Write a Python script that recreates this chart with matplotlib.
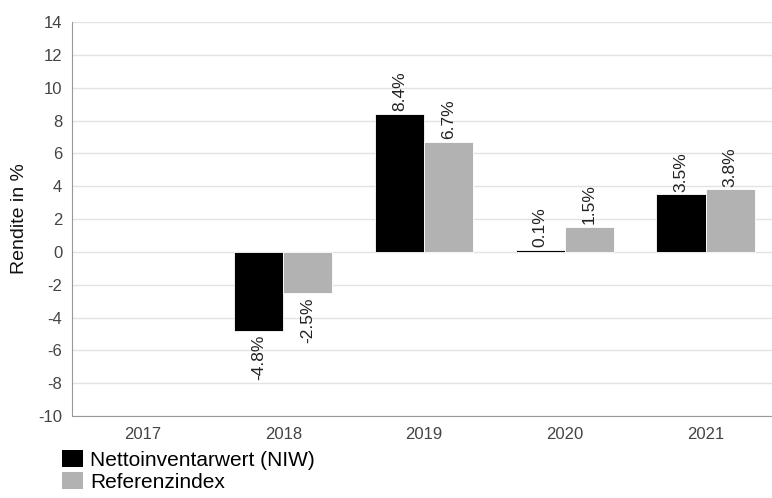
import matplotlib
matplotlib.use("Agg")
import matplotlib.pyplot as plt
from matplotlib.patches import Patch
import numpy as np

plt.rcParams['font.family'] = ['Liberation Sans', 'DejaVu Sans']
plt.rcParams['axes.unicode_minus'] = False

years = ["2017", "2018", "2019", "2020", "2021"]
niw = [np.nan, -4.8, 8.4, 0.1, 3.5]
ref = [np.nan, -2.5, 6.7, 1.5, 3.8]
series_names = ["Nettoinventarwert (NIW)", "Referenzindex"]
colors = ["#000000", "#b2b2b2"]

fig = plt.figure(figsize=(7.72, 4.98), dpi=100)
ax = fig.add_axes([72 / 772, 1 - 416 / 498, 704 / 772, 394 / 498])

x = np.arange(len(years))
w = 0.35
for i, (vals, col) in enumerate(zip([niw, ref], colors)):
    pos = x - w / 2 + i * w
    ax.bar(pos, vals, width=w, color=col, edgecolor="white", linewidth=0.6, zorder=3)
    for p, v in zip(pos, vals):
        if np.isnan(v):
            continue
        if v >= 0:
            ax.annotate("%.1f%%" % v, (p, v), xytext=(0, 2), textcoords="offset points",
                        rotation=90, ha="center", va="bottom", fontsize=12.5, color="#222222")
        else:
            ax.annotate("%.1f%%" % v, (p, v), xytext=(0, -3), textcoords="offset points",
                        rotation=90, ha="center", va="top", fontsize=12.5, color="#222222")

ax.set_xlim(-0.5, 4.5)
ax.set_ylim(-10, 14)
ax.set_yticks(range(-10, 15, 2))
ax.set_xticks(x)
ax.set_xticklabels(years)
ax.grid(axis="y", color="#e3e3e3", linewidth=1, zorder=0)
ax.tick_params(axis="both", length=0, labelsize=12, colors="#444444", pad=7)
ax.tick_params(axis="x", pad=8)
for s in ["top", "right"]:
    ax.spines[s].set_visible(False)
for s in ["left", "bottom"]:
    ax.spines[s].set_color("#999999")
ax.set_ylabel("Rendite in %", fontsize=14, color="#111111")
ax.yaxis.set_label_coords(-0.062, 0.5)

handles = [Patch(facecolor=c, edgecolor="none") for c in colors]
fig.legend(handles, series_names, loc="upper left", bbox_to_anchor=(62 / 772, 1 - 450 / 498),
           frameon=False, fontsize=15, handlelength=1.0, handleheight=0.9,
           handletextpad=0.35, labelspacing=0.1, borderpad=0, borderaxespad=0)

fig.savefig("out.png", dpi=100)
